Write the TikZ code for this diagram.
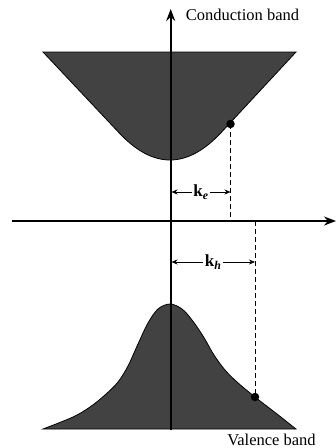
\documentclass[tikz,border=0pt]{standalone}
\usepackage{fontspec}
\setmainfont{Liberation Serif}
\usetikzlibrary{arrows.meta, positioning}

\begin{document}
\begin{tikzpicture}[
  x=1pt, y=-1pt,
  font=\fontsize{16.5}{18}\selectfont,
  axis/.style={line width=1.6pt, -{Stealth[length=12pt, width=9pt]}},
  band/.style={fill=black!74, draw=black, line width=0.8pt},
  guide/.style={line width=0.9pt, dash pattern=on 5pt off 3pt},
  dimline/.style={line width=0.6pt, {Stealth[length=6pt, width=5pt]}-{Stealth[length=6pt, width=5pt]}},
  dot/.style={circle, fill=black, inner sep=0pt, minimum size=8.5pt},
  klabel/.style={fill=white, inner sep=1.5pt, font=\fontsize{17}{19}\selectfont\bfseries}
]
\useasboundingbox (0,0) rectangle (336,448);

% axes
\coordinate (origin) at (170.7,221);
\coordinate (ytop)   at (170.7,9);
\coordinate (ybot)   at (170.7,430);
\coordinate (xleft)  at (12,221);
\coordinate (xright) at (336,221);

% conduction band
\draw[band] (43,52) -- (118.7,132.4)
  .. controls (152.9,169.2) and (187.1,169.2) .. (221.3,132.4)
  -- (296,52) -- cycle;

% valence band
\draw[band] plot[smooth, tension=0.55] coordinates {
  (43,429) (73,417) (90,407) (105,395) (118,382) (128,366) (138,344)
  (148,323) (158,309) (170,304) (182,309) (192,320) (203,336) (214,355)
  (225,370) (237,382) (255,397) (277,414) (296,429)}
  -- cycle;

\draw[axis] (ybot) -- (ytop);
\draw[axis] (xleft) -- (xright);

% electron and hole
\node[dot] (edot) at (230.5,124) {};
\node[dot] (hdot) at (255,397) {};

\draw[guide] (edot.center) -- (edot.center |- origin);
\draw[guide] (origin -| hdot.center) -- (hdot.center);

\coordinate (ke0) at (171.5,192);
\coordinate (kh0) at (171.5,262);
\draw[dimline] (ke0) -- node[klabel] (ke) {k\textsubscript{\textit{e}}} (ke0 -| edot.center);
\draw[dimline] (kh0) -- node[klabel] (kh) {k\textsubscript{\textit{h}}} (kh0 -| hdot.center);

% labels
\node (cond) at (242.5,15) {Conduction band};
\node (val)  at (271.5,440) {Valence band};

\end{tikzpicture}
\end{document}
